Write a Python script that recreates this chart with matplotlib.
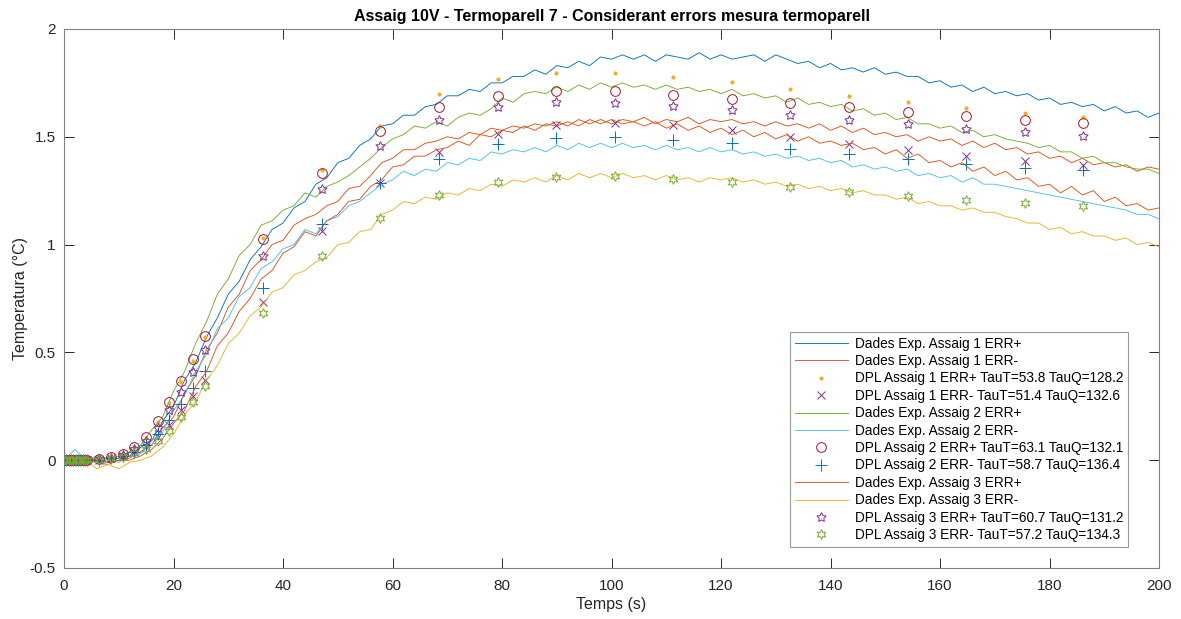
import numpy as np
import matplotlib.pyplot as plt

plt.rcParams['font.family'] = ['Liberation Sans', 'DejaVu Sans']

# Experimental data, sampled every 2 s
t_exp = np.arange(0, 201, 2)

exp1_pos = [0.00, -0.01, 0.01, 0.00, -0.01, 0.01, 0.02, 0.06, 0.09, 0.18,
            0.25, 0.37, 0.45, 0.57, 0.66, 0.77, 0.83, 0.93, 0.99, 1.07,
            1.10, 1.17, 1.20, 1.28, 1.31, 1.38, 1.40, 1.46, 1.49, 1.55,
            1.56, 1.60, 1.60, 1.64, 1.65, 1.69, 1.69, 1.72, 1.71, 1.75,
            1.75, 1.78, 1.78, 1.81, 1.79, 1.83, 1.82, 1.85, 1.83, 1.87,
            1.86, 1.88, 1.86, 1.88, 1.85, 1.88, 1.87, 1.86, 1.89, 1.86,
            1.88, 1.86, 1.87, 1.88, 1.85, 1.88, 1.86, 1.84, 1.85, 1.82,
            1.84, 1.81, 1.82, 1.80, 1.82, 1.79, 1.80, 1.78, 1.78, 1.75,
            1.76, 1.73, 1.74, 1.71, 1.73, 1.70, 1.71, 1.69, 1.70, 1.67,
            1.68, 1.65, 1.66, 1.64, 1.65, 1.62, 1.64, 1.61, 1.62, 1.59,
            1.61]
exp1_neg = [-0.01, 0.00, -0.02, 0.00, -0.01, 0.00, 0.01, 0.04, 0.07, 0.15,
            0.20, 0.31, 0.39, 0.51, 0.59, 0.71, 0.77, 0.88, 0.93, 1.00,
            1.02, 1.09, 1.12, 1.14, 1.18, 1.20, 1.26, 1.27, 1.32, 1.38,
            1.40, 1.44, 1.44, 1.47, 1.48, 1.50, 1.49, 1.52, 1.51, 1.54,
            1.53, 1.55, 1.54, 1.56, 1.55, 1.57, 1.55, 1.58, 1.56, 1.58,
            1.56, 1.58, 1.57, 1.59, 1.56, 1.58, 1.57, 1.59, 1.56, 1.58,
            1.57, 1.58, 1.56, 1.57, 1.55, 1.57, 1.55, 1.56, 1.54, 1.56,
            1.53, 1.55, 1.52, 1.54, 1.51, 1.52, 1.50, 1.51, 1.48, 1.50,
            1.48, 1.49, 1.46, 1.48, 1.45, 1.47, 1.44, 1.45, 1.42, 1.43,
            1.40, 1.41, 1.38, 1.40, 1.37, 1.38, 1.36, 1.37, 1.34, 1.36,
            1.35]
exp2_pos = [0.01, 0.00, -0.01, 0.02, 0.00, 0.01, 0.04, 0.07, 0.14, 0.20,
            0.32, 0.41, 0.54, 0.64, 0.77, 0.84, 0.95, 1.00, 1.09, 1.11,
            1.16, 1.18, 1.24, 1.22, 1.27, 1.29, 1.32, 1.36, 1.40, 1.45,
            1.49, 1.51, 1.55, 1.54, 1.57, 1.55, 1.59, 1.61, 1.60, 1.63,
            1.68, 1.66, 1.70, 1.71, 1.70, 1.73, 1.71, 1.74, 1.72, 1.75,
            1.73, 1.75, 1.73, 1.74, 1.72, 1.74, 1.72, 1.73, 1.71, 1.72,
            1.70, 1.72, 1.69, 1.70, 1.68, 1.69, 1.66, 1.68, 1.65, 1.66,
            1.64, 1.65, 1.62, 1.63, 1.60, 1.61, 1.58, 1.59, 1.56, 1.56,
            1.54, 1.55, 1.52, 1.53, 1.50, 1.51, 1.49, 1.48, 1.47, 1.45,
            1.46, 1.43, 1.43, 1.40, 1.41, 1.38, 1.38, 1.36, 1.35, 1.35,
            1.33]
exp2_neg = [0.00, 0.05, 0.00, 0.02, 0.01, -0.01, 0.02, 0.03, 0.09, 0.13,
            0.23, 0.30, 0.41, 0.49, 0.61, 0.66, 0.76, 0.80, 0.89, 0.92,
            0.98, 1.00, 1.07, 1.05, 1.11, 1.13, 1.18, 1.20, 1.24, 1.28,
            1.30, 1.34, 1.32, 1.35, 1.34, 1.38, 1.37, 1.40, 1.39, 1.43,
            1.42, 1.44, 1.43, 1.45, 1.43, 1.46, 1.44, 1.47, 1.45, 1.47,
            1.45, 1.47, 1.45, 1.46, 1.44, 1.46, 1.44, 1.45, 1.43, 1.45,
            1.43, 1.44, 1.42, 1.43, 1.41, 1.42, 1.40, 1.41, 1.39, 1.40,
            1.38, 1.39, 1.36, 1.37, 1.35, 1.36, 1.34, 1.35, 1.32, 1.33,
            1.31, 1.32, 1.29, 1.31, 1.28, 1.28, 1.27, 1.26, 1.25, 1.24,
            1.23, 1.22, 1.21, 1.20, 1.19, 1.18, 1.17, 1.16, 1.14, 1.14,
            1.12]
exp3_pos = [0.00, -0.02, 0.00, -0.01, -0.02, 0.00, 0.00, 0.02, 0.05, 0.10,
            0.17, 0.23, 0.34, 0.41, 0.53, 0.59, 0.69, 0.75, 0.84, 0.88,
            0.96, 0.99, 1.06, 1.04, 1.11, 1.14, 1.20, 1.21, 1.27, 1.30,
            1.36, 1.37, 1.41, 1.41, 1.44, 1.45, 1.48, 1.46, 1.51, 1.50,
            1.53, 1.52, 1.55, 1.53, 1.56, 1.55, 1.57, 1.55, 1.58, 1.56,
            1.58, 1.56, 1.57, 1.55, 1.57, 1.54, 1.56, 1.53, 1.55, 1.52,
            1.54, 1.51, 1.53, 1.50, 1.52, 1.49, 1.51, 1.48, 1.50, 1.47,
            1.48, 1.46, 1.47, 1.44, 1.45, 1.42, 1.44, 1.40, 1.42, 1.38,
            1.39, 1.36, 1.38, 1.34, 1.36, 1.32, 1.34, 1.30, 1.31, 1.27,
            1.28, 1.24, 1.27, 1.23, 1.25, 1.20, 1.22, 1.18, 1.19, 1.16,
            1.17]
exp3_neg = [-0.01, -0.02, 0.00, -0.04, -0.02, -0.04, -0.01, 0.00, 0.02, 0.06,
            0.12, 0.21, 0.27, 0.37, 0.44, 0.54, 0.59, 0.67, 0.71, 0.78,
            0.80, 0.86, 0.88, 0.92, 0.94, 1.00, 1.01, 1.06, 1.07, 1.14,
            1.16, 1.20, 1.19, 1.22, 1.21, 1.24, 1.23, 1.26, 1.25, 1.28,
            1.27, 1.30, 1.29, 1.31, 1.29, 1.32, 1.30, 1.33, 1.31, 1.33,
            1.31, 1.33, 1.31, 1.32, 1.30, 1.32, 1.30, 1.31, 1.29, 1.31,
            1.30, 1.31, 1.29, 1.30, 1.28, 1.29, 1.27, 1.28, 1.26, 1.27,
            1.25, 1.26, 1.24, 1.25, 1.23, 1.23, 1.21, 1.22, 1.19, 1.20,
            1.18, 1.18, 1.16, 1.17, 1.15, 1.15, 1.13, 1.12, 1.10, 1.10,
            1.07, 1.08, 1.05, 1.06, 1.04, 1.04, 1.02, 1.03, 1.00, 1.01,
            0.99]

# DPL model output times
t_dpl = [0, 0.43, 0.86, 1.28, 1.71, 2.14, 2.57, 3.0, 3.42, 3.85, 4.28,
         6.42, 8.56, 10.7, 12.84, 14.98, 17.12, 19.26, 21.4, 23.54, 25.68,
         36.38, 47.08, 57.78, 68.48, 79.18, 89.88, 100.58, 111.28, 121.98,
         132.68, 143.38, 154.08, 164.78, 175.48, 186.18]

z = [0.0] * 11
dpl1_pos = z + [0.005, 0.015, 0.03, 0.06, 0.105, 0.178, 0.265, 0.362, 0.462, 0.57,
                1.03, 1.345, 1.55, 1.70, 1.766, 1.797, 1.797, 1.778, 1.755, 1.721,
                1.69, 1.662, 1.634, 1.611, 1.592]
dpl1_neg = z + [0.003, 0.009, 0.018, 0.036, 0.063, 0.108, 0.165, 0.235, 0.30, 0.37,
                0.734, 1.063, 1.286, 1.43, 1.515, 1.554, 1.565, 1.554, 1.53, 1.50,
                1.466, 1.438, 1.41, 1.388, 1.368]
dpl2_pos = z + [0.005, 0.015, 0.03, 0.062, 0.108, 0.182, 0.269, 0.368, 0.467, 0.575,
                1.025, 1.334, 1.526, 1.636, 1.69, 1.713, 1.713, 1.696, 1.677, 1.657,
                1.636, 1.613, 1.595, 1.58, 1.565]
dpl2_neg = z + [0.003, 0.01, 0.02, 0.04, 0.07, 0.12, 0.185, 0.26, 0.335, 0.415,
                0.80, 1.095, 1.286, 1.399, 1.466, 1.492, 1.50, 1.484, 1.469, 1.443,
                1.419, 1.396, 1.376, 1.357, 1.345]
dpl3_pos = z + [0.004, 0.012, 0.025, 0.05, 0.088, 0.148, 0.232, 0.317, 0.41, 0.51,
                0.946, 1.26, 1.458, 1.577, 1.636, 1.659, 1.657, 1.642, 1.623, 1.60,
                1.58, 1.557, 1.538, 1.52, 1.504]
dpl3_neg = z + [0.002, 0.008, 0.016, 0.032, 0.05, 0.088, 0.135, 0.198, 0.27, 0.345,
                0.683, 0.948, 1.121, 1.229, 1.291, 1.314, 1.319, 1.306, 1.288, 1.268,
                1.242, 1.224, 1.209, 1.193, 1.178]

# MATLAB default colour order
c = ['#0072BD', '#D95319', '#EDB120', '#7E2F8E', '#77AC30', '#4DBEEE', '#A2142F']
lw = 0.65
pent = (5, 1, 0)
hexa = (6, 1, 0)

fig = plt.figure(figsize=(11.81, 6.19), dpi=100)
ax = fig.add_axes([0.0542, 0.0824, 0.9272, 0.8708])

ax.plot(t_exp, exp1_pos, color=c[0], lw=lw, label='Dades Exp. Assaig 1 ERR+')
ax.plot(t_exp, exp1_neg, color=c[1], lw=lw, label='Dades Exp. Assaig 1 ERR-')
ax.plot(t_dpl, dpl1_pos, ls='none', marker='.', ms=4, color=c[2],
        label='DPL Assaig 1 ERR+ TauT=53.8 TauQ=128.2')
ax.plot(t_dpl, dpl1_neg, ls='none', marker='x', ms=6, mew=0.7, color=c[3],
        label='DPL Assaig 1 ERR- TauT=51.4 TauQ=132.6')
ax.plot(t_exp, exp2_pos, color=c[4], lw=lw, label='Dades Exp. Assaig 2 ERR+')
ax.plot(t_exp, exp2_neg, color=c[5], lw=lw, label='Dades Exp. Assaig 2 ERR-')
ax.plot(t_dpl, dpl2_pos, ls='none', marker='o', ms=7, mew=0.7, mfc='none', color=c[6],
        label='DPL Assaig 2 ERR+ TauT=63.1 TauQ=132.1')
ax.plot(t_dpl, dpl2_neg, ls='none', marker='+', ms=8, mew=0.7, color=c[0],
        label='DPL Assaig 2 ERR- TauT=58.7 TauQ=136.4')
ax.plot(t_exp, exp3_pos, color=c[1], lw=lw, label='Dades Exp. Assaig 3 ERR+')
ax.plot(t_exp, exp3_neg, color=c[2], lw=lw, label='Dades Exp. Assaig 3 ERR-')
ax.plot(t_dpl, dpl3_pos, ls='none', marker=pent, ms=7, mew=0.7, mfc='none', color=c[3],
        label='DPL Assaig 3 ERR+ TauT=60.7 TauQ=131.2')
ax.plot(t_dpl, dpl3_neg, ls='none', marker=hexa, ms=7, mew=0.7, mfc='none', color=c[4],
        label='DPL Assaig 3 ERR- TauT=57.2 TauQ=134.3')

ax.set_xlim(0, 200)
ax.set_ylim(-0.5, 2)
ax.set_xticks(np.arange(0, 201, 20))
ax.set_yticks([-0.5, 0, 0.5, 1, 1.5, 2])
ax.set_yticklabels(['-0.5', '0', '0.5', '1', '1.5', '2'])
ax.tick_params(direction='in', top=True, right=True, length=7, width=0.7,
               colors='#262626', labelsize=11)
ax.tick_params(axis='x', pad=8)
ax.tick_params(axis='y', pad=6)
for s in ax.spines.values():
    s.set_color('#808080')
    s.set_linewidth(0.8)

ax.set_xlabel('Temps (s)', fontsize=11.5, color='#262626', labelpad=3)
ax.set_ylabel('Temperatura (°C)', fontsize=11.5, color='#262626', labelpad=1)
ax.set_title('Assaig 10V - Termoparell 7 - Considerant errors mesura termoparell',
             fontsize=11.5, fontweight='bold', pad=6)

leg = ax.legend(loc='upper left', bbox_to_anchor=(0.663, 0.438), borderaxespad=0,
                fontsize=9.8, fancybox=False, framealpha=1, edgecolor='#999999',
                handlelength=3.9, handletextpad=0.5, labelspacing=0.25, borderpad=0.35)
leg.get_frame().set_linewidth(0.8)

fig.savefig('out.png', dpi=100)
